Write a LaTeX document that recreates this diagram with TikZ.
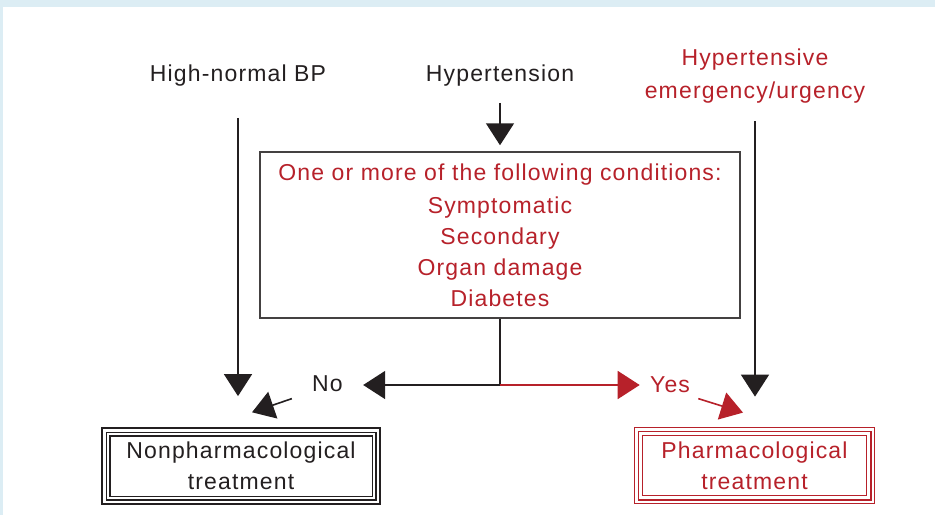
\documentclass[tikz,border=0pt]{standalone}
\usepackage{fontspec}
\setmainfont{Liberation Sans}[LetterSpace=5]
\usetikzlibrary{arrows.meta}

\definecolor{hred}{RGB}{183,33,42}
\definecolor{hblk}{RGB}{35,31,32}
\definecolor{framebg}{RGB}{220,237,244}

\tikzset{
  lbl/.style={inner sep=0pt, text=hblk, font=\fontsize{11.5}{15.5}\selectfont},
  arr/.style={line width=0.8pt, draw=hblk, -{Triangle[width=14pt,length=11pt]}},
  link/.style={line width=0.8pt, draw=hblk},
  treat/.style={lbl, align=center, double, double distance=1.3pt}
}

\begin{document}
\begin{tikzpicture}[x=0.5pt,y=-0.5pt]
\fill[framebg] (0,0) rectangle (935,515);
\fill[white] (3,7) rectangle (935,515);

% top row
\node[lbl, anchor=base] (hn) at (238,81) {High-normal BP};
\node[lbl, anchor=base] (ht) at (500,81) {Hypertension};
\node[lbl, text=hred, align=center, font=\fontsize{11.5}{16.5}\selectfont] (he) at (755,76) {Hypertensive\\emergency/urgency};

% conditions
\node[lbl, text=hred, align=center, draw=hblk!85, line width=0.75pt,
      minimum width=240pt, minimum height=83pt, text depth=0pt] (cond) at (500,235)
  {One or more of the following conditions:\\[1pt]Symptomatic\\Secondary\\Organ damage\\Diabetes};

% outcomes
\node[treat, draw=hblk, line width=0.9pt, minimum width=136.8pt, minimum height=35.8pt] (nonph) at (241,466) {Nonpharmacological\\treatment};
\draw[hblk, line width=0.6pt] ([shift={(3.3pt,-3.3pt)}]nonph.north west) rectangle ([shift={(-3.3pt,3.3pt)}]nonph.south east);

\node[treat, text=hred, draw=hred, line width=0.6pt, minimum width=118.3pt, minimum height=36.3pt] (pharm) at (754.5,465.5) {Pharmacological\\treatment};
\draw[hred, line width=0.6pt] ([shift={(3.3pt,-3.3pt)}]pharm.north west) rectangle ([shift={(-3.3pt,3.3pt)}]pharm.south east);

\node[lbl, anchor=base] (no) at (327.5,391) {No};
\node[lbl, text=hred, anchor=base] (yes) at (670,392) {Yes};

\coordinate (split) at (500,385);

\draw[arr, shorten <=8.3pt, shorten >=3pt] (ht.south) -- (cond.north);
\draw[arr, shorten <=15.8pt, shorten >=16.6pt] (hn.south) -- (hn.south |- nonph.north);
\draw[arr, shorten <=8.8pt, shorten >=16pt] (he.south) -- (he.south |- pharm.north);

\draw[link] (cond.south) -- (split);
\draw[arr, shorten >=10pt] (split) -- (split -| no.east);
\draw[arr, draw=hred, fill=hred, shorten >=5pt] (split) -- (split -| yes.west);

\draw[arr] ([shift={(-20,7)}]no.south west) -- ([shift={(11,-17)}]nonph.north);
\draw[arr, draw=hred, fill=hred] ([shift={(8,6)}]yes.south east) -- ([shift={(-11.5,-16)}]pharm.north);

\end{tikzpicture}
\end{document}
